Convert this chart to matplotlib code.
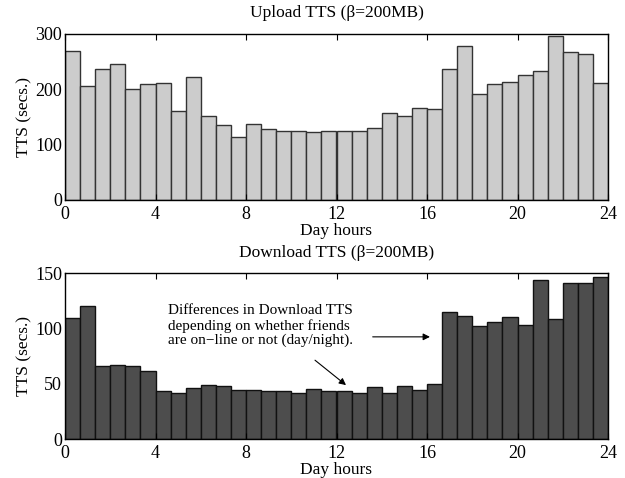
import numpy as np
import matplotlib
matplotlib.use('Agg')
import matplotlib.pyplot as plt

plt.rcParams['font.family'] = ['Liberation Serif', 'DejaVu Serif']
plt.rcParams['font.size'] = 12.5

# 36 bins of 40 minutes across the day
bin_width = 24.0 / 36
hours = np.arange(36) * bin_width

upload_tts = [270, 206, 236, 245, 200, 209, 211, 160, 223, 151, 136, 113,
              138, 128, 124, 124, 122, 125, 125, 125, 130, 157, 151, 166,
              164, 237, 279, 192, 210, 214, 226, 233, 296, 267, 264, 211]

download_tts = [109, 120, 66, 67, 66, 61, 43, 42, 46, 49, 48, 44,
                44, 43, 43, 42, 45, 43, 43, 42, 47, 42, 48, 44,
                50, 115, 111, 102, 106, 110, 103, 144, 108, 141, 141, 146]

xticks = [0, 4, 8, 12, 16, 20, 24]

fig = plt.figure(figsize=(6.25, 4.78), dpi=100)
ax1 = fig.add_axes([65 / 625, 1 - 200 / 478, 543 / 625, 166 / 478])
ax2 = fig.add_axes([65 / 625, 1 - 439 / 478, 543 / 625, 166 / 478])

ax1.bar(hours, upload_tts, width=bin_width, align='edge',
        color='#cccccc', edgecolor='#333333', linewidth=1)
ax1.set_ylim(0, 300)
ax1.set_yticks([0, 100, 200, 300])
ax1.set_title('Upload TTS (\u03b2=200MB)', fontsize=12.5, pad=12)

ax2.bar(hours, download_tts, width=bin_width, align='edge',
        color='#4d4d4d', edgecolor='#111111', linewidth=1)
ax2.set_ylim(0, 150)
ax2.set_yticks([0, 50, 100, 150])
ax2.set_title('Download TTS (\u03b2=200MB)', fontsize=12.5, pad=11.6)

for ax in (ax1, ax2):
    ax.set_xlim(0, 24)
    ax.set_xticks(xticks)
    ax.set_xlabel('Day hours', fontsize=12.5)
    ax.xaxis.set_label_coords(0.5, -31 / 166)
    ax.xaxis.label.set_va('center')
    ax.set_ylabel('TTS (secs.)', fontsize=12.5, labelpad=2)
    ax.tick_params(axis='x', direction='in', top=True, length=4, pad=4, labelsize=13)
    ax.tick_params(axis='y', length=0, pad=2, labelsize=13)
    for s in ax.spines.values():
        s.set_linewidth(1)

ax2.text(4.56, 121.6, 'Differences in Download TTS\ndepending on whether friends\nare on\u2212line or not (day/night).',
         ha='left', va='top', fontsize=11, linespacing=1.12)
ax2.annotate('', xy=(12.42, 48.7), xytext=(11.05, 71.2),
             arrowprops=dict(arrowstyle='-|>', color='black', lw=0.8,
                             mutation_scale=10, shrinkA=0, shrinkB=0))
ax2.annotate('', xy=(16.13, 92.3), xytext=(13.6, 92.3),
             arrowprops=dict(arrowstyle='-|>', color='black', lw=0.8,
                             mutation_scale=10, shrinkA=0, shrinkB=0))

fig.savefig('out.png', dpi=100)
